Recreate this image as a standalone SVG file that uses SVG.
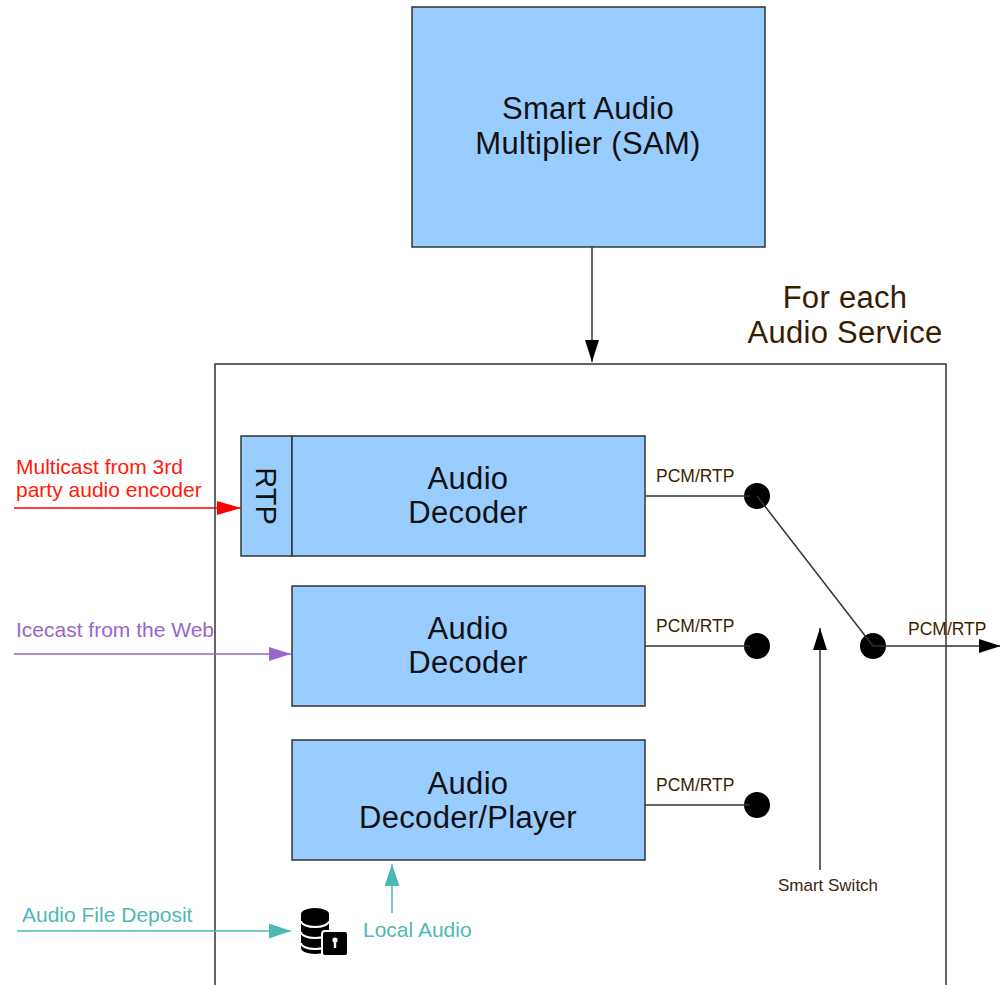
<svg xmlns="http://www.w3.org/2000/svg" width="1000" height="985" viewBox="0 0 1000 985">
<defs>
<style>
.box{fill:#99ccff;stroke:#333;stroke-width:1.5}
.big{font-family:"Liberation Sans",Arial,sans-serif;font-size:31px;letter-spacing:0.3px;fill:#111;text-anchor:middle}
.pcm{font-family:"Liberation Sans",Arial,sans-serif;font-size:17.5px;fill:#3d1f00}
.lbl{font-family:"Liberation Sans",Arial,sans-serif;font-size:21px}
.ln{stroke:#333;stroke-width:1.5;fill:none}
.dot{fill:#000}
</style>
<marker id="ab" markerUnits="userSpaceOnUse" markerWidth="22" markerHeight="14" refX="22" refY="7" orient="auto"><path d="M0,0 L22,7 L0,14 z" fill="#000"/></marker>
<marker id="ar" markerUnits="userSpaceOnUse" markerWidth="24" markerHeight="14" refX="24" refY="7" orient="auto"><path d="M0,0 L24,7 L0,14 z" fill="#ff0000"/></marker>
<marker id="ap" markerUnits="userSpaceOnUse" markerWidth="22" markerHeight="14" refX="22" refY="7" orient="auto"><path d="M0,0 L22,7 L0,14 z" fill="#9966cc"/></marker>
<marker id="at" markerUnits="userSpaceOnUse" markerWidth="22" markerHeight="15" refX="22" refY="7.5" orient="auto"><path d="M0,0 L22,7.5 L0,15 z" fill="#4db8b8"/></marker>
</defs>
<rect width="1000" height="985" fill="#fff"/>

<g id="service-container">
<rect x="215" y="364" width="731" height="700" fill="none" stroke="#333" stroke-width="1.5"/>
<text class="big" x="845" y="308" style="fill:#3a1d00">For each</text>
<text class="big" x="845" y="343" style="fill:#3a1d00">Audio Service</text>
</g>

<g id="sam">
<rect class="box" x="412" y="7" width="353" height="240"/>
<text class="big" x="588" y="119">Smart Audio</text>
<text class="big" x="588" y="154">Multiplier (SAM)</text>
</g>

<g id="rtp">
<rect class="box" x="241" y="436" width="51" height="120"/>
<text class="big" transform="translate(256,496) rotate(90)" style="font-size:29px;letter-spacing:0">RTP</text>
</g>

<g id="decoder1">
<rect class="box" x="292" y="436" width="353" height="120"/>
<text class="big" x="468" y="489">Audio</text>
<text class="big" x="468" y="523">Decoder</text>
</g>

<g id="decoder2">
<rect class="box" x="292" y="586" width="353" height="120"/>
<text class="big" x="468" y="639">Audio</text>
<text class="big" x="468" y="673">Decoder</text>
</g>

<g id="decoder3">
<rect class="box" x="292" y="740" width="353" height="120"/>
<text class="big" x="468" y="794">Audio</text>
<text class="big" x="468" y="828">Decoder/Player</text>
</g>

<g id="database">
<path d="M301,914 A14,6 0 0 1 329,914 L329,948 A14,6 0 0 1 301,948 Z" fill="#000"/>
<path d="M301,921 A14,6 0 0 0 329,921 M301,932 A14,6 0 0 0 329,932 M301,943 A14,6 0 0 0 329,943" stroke="#fff" stroke-width="2" fill="none"/>
<rect x="322" y="931" width="26" height="25" rx="3" fill="#000" stroke="#fff" stroke-width="2"/>
<circle cx="335" cy="940" r="2.6" fill="#fff"/>
<rect x="333.8" y="940" width="2.4" height="8" fill="#fff"/>
</g>

<g id="switch">
<circle class="dot" cx="757" cy="496" r="13"/>
<circle class="dot" cx="757" cy="646" r="13"/>
<circle class="dot" cx="757" cy="805" r="13"/>
<circle class="dot" cx="873" cy="646" r="13"/>
</g>

<g id="connectors">
<line class="ln" x1="592" y1="247" x2="592" y2="362" marker-end="url(#ab)"/>
<line class="ln" x1="645" y1="496" x2="750" y2="496"/>
<line class="ln" x1="645" y1="646" x2="750" y2="646"/>
<line class="ln" x1="645" y1="805" x2="750" y2="805"/>
<line class="ln" x1="757" y1="496" x2="873" y2="646"/>
<line class="ln" x1="873" y1="646" x2="1001" y2="646" marker-end="url(#ab)"/>
<line class="ln" x1="820" y1="870" x2="820" y2="628" marker-end="url(#ab)"/>
<line x1="14" y1="508" x2="241" y2="508" stroke="#ff0000" stroke-width="1.5" marker-end="url(#ar)"/>
<line x1="14" y1="654" x2="291" y2="654" stroke="#9966cc" stroke-width="1.5" marker-end="url(#ap)"/>
<line x1="17" y1="931" x2="291" y2="931" stroke="#4db8b8" stroke-width="1.5" marker-end="url(#at)"/>
<line x1="392" y1="913" x2="392" y2="864" stroke="#4db8b8" stroke-width="1.5" marker-end="url(#at)"/>
</g>

<g id="labels">
<text class="pcm" x="656" y="482">PCM/RTP</text>
<text class="pcm" x="656" y="632">PCM/RTP</text>
<text class="pcm" x="656" y="791">PCM/RTP</text>
<text class="pcm" x="908" y="635">PCM/RTP</text>
<text class="pcm" x="828" y="891" text-anchor="middle" style="fill:#3d2612;font-size:17px">Smart Switch</text>
<text class="lbl" x="16" y="474" fill="#ff1a0a">Multicast from 3rd</text>
<text class="lbl" x="16" y="497" fill="#ff1a0a">party audio encoder</text>
<text class="lbl" x="16" y="637" fill="#9966cc">Icecast from the Web</text>
<text class="lbl" x="22" y="922" fill="#4db8b8">Audio File Deposit</text>
<text class="lbl" x="363" y="937" fill="#4db8b8">Local Audio</text>
</g>
</svg>
